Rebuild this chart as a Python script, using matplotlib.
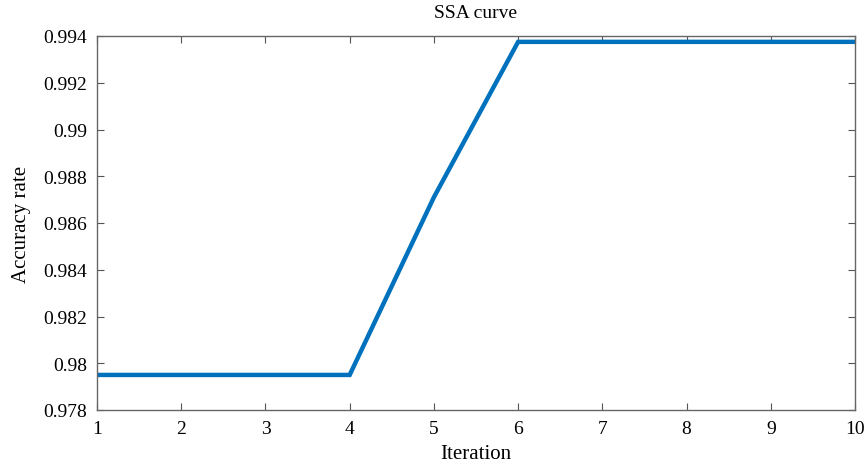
import numpy as np
import matplotlib
matplotlib.use('Agg')
from matplotlib import pyplot as plt

iterations = [1, 2, 3, 4, 5, 6, 7, 8, 9, 10]
accuracy = [0.9795, 0.9795, 0.9795, 0.9795, 0.9871,
            0.99375, 0.99375, 0.99375, 0.99375, 0.99375]
yticks = [0.978, 0.98, 0.982, 0.984, 0.986, 0.988, 0.99, 0.992, 0.994]
ytick_labels = ['0.978', '0.98', '0.982', '0.984', '0.986', '0.988', '0.99', '0.992', '0.994']

plt.rcParams['font.family'] = ['Liberation Serif', 'DejaVu Serif']
plt.rcParams['font.size'] = 14

fig = plt.figure(figsize=(8.65, 4.64), dpi=100)
ax = fig.add_axes([97/865, 53/464, 758/865, 374/464])

ax.plot(iterations, accuracy, color='#0072bd', linewidth=3.2, solid_joinstyle='miter')

ax.set_xlim(1, 10)
ax.set_ylim(0.978, 0.994)
ax.set_xticks(iterations)
ax.set_yticks(yticks)
ax.set_yticklabels(ytick_labels)
ax.tick_params(direction='in', top=True, right=True, length=5, width=0.8,
               color='#555555', labelsize=14, pad=7)
for s in ax.spines.values():
    s.set_color('#666666')
    s.set_linewidth(1.0)

ax.set_title('SSA curve', fontsize=14, pad=14)
ax.set_xlabel('Iteration', fontsize=15, labelpad=5)
ax.set_ylabel('Accuracy rate', fontsize=15, labelpad=9)

fig.savefig('out.png', dpi=100)
